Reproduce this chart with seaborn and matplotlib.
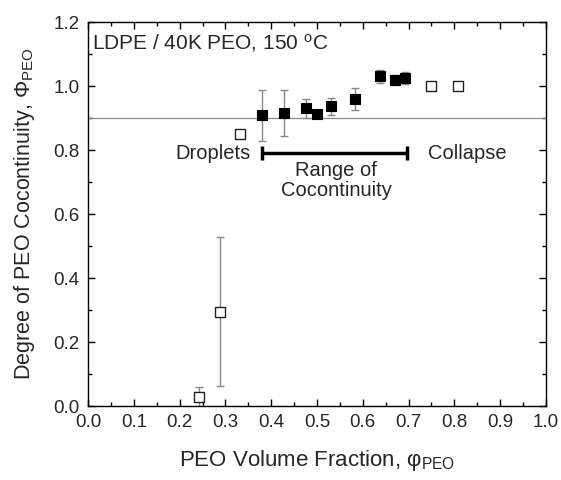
import numpy as np
import pandas as pd
import matplotlib
matplotlib.use("Agg")
import matplotlib.pyplot as plt
import seaborn as sns
from matplotlib.ticker import MultipleLocator, FormatStrFormatter

sns.set_style("ticks")
plt.rcParams['font.family'] = ['Liberation Sans', 'DejaVu Sans']
plt.rcParams['mathtext.fontset'] = 'custom'
plt.rcParams['mathtext.rm'] = 'Liberation Sans'
plt.rcParams['mathtext.it'] = 'Liberation Sans:italic'
plt.rcParams['mathtext.sf'] = 'Liberation Sans'

# Cocontinuous (filled) points
phi_filled = [0.380, 0.429, 0.477, 0.499, 0.531, 0.582, 0.637, 0.670, 0.693]
coc_filled = [0.909, 0.916, 0.930, 0.912, 0.937, 0.959, 1.030, 1.019, 1.025]
err_filled = [0.080, 0.071, 0.029, 0.010, 0.027, 0.035, 0.019, 0.015, 0.018]

# Non-cocontinuous (open) points
phi_open = [0.243, 0.288, 0.332, 0.750, 0.809]
coc_open = [0.029, 0.295, 0.849, 1.000, 1.000]
err_open = [0.030, 0.233, 0.010, 0.005, 0.003]

threshold = 0.9
range_start, range_end, range_y = 0.380, 0.696, 0.79

df_f = pd.DataFrame({"phi": phi_filled, "coc": coc_filled})
df_o = pd.DataFrame({"phi": phi_open, "coc": coc_open})

fig, ax = plt.subplots(figsize=(5.61, 4.8), dpi=100)
fig.subplots_adjust(left=0.157, right=0.973, top=0.954, bottom=0.154)

ax.axhline(threshold, color='#888888', lw=0.9, zorder=1)

ax.errorbar(phi_filled, coc_filled, yerr=err_filled, fmt='none', ecolor='#888888',
            elinewidth=1, capsize=3, capthick=1, zorder=2)
ax.errorbar(phi_open, coc_open, yerr=err_open, fmt='none', ecolor='#888888',
            elinewidth=1, capsize=3, capthick=1, zorder=2)

sns.scatterplot(data=df_f, x="phi", y="coc", ax=ax, marker='s', s=60,
                color='black', edgecolor='black', linewidth=0.8, zorder=3)
sns.scatterplot(data=df_o, x="phi", y="coc", ax=ax, marker='s', s=42,
                facecolor='white', edgecolor='#222222', linewidth=1.0, zorder=3)

# Range of cocontinuity bar
half = (range_end - range_start) / 2
ax.errorbar([(range_start + range_end) / 2], [range_y], xerr=[[half], [half]],
            fmt='none', ecolor='black', elinewidth=2.5, capsize=5, capthick=2.5, zorder=3)

ax.text(0.355, range_y, "Droplets", ha='right', va='center', fontsize=14.5)
ax.text(0.742, range_y, "Collapse", ha='left', va='center', fontsize=14.5)
ax.text(0.542, 0.705, "Range of\nCocontinuity", ha='center', va='center', fontsize=14.5,
        linespacing=1.1)
ax.text(0.008, 1.135, "LDPE / 40K PEO, 150 $^{\\rm o}$C", ha='left', va='center', fontsize=15)

ax.set_xlim(0, 1.0)
ax.set_ylim(0, 1.2)
ax.xaxis.set_major_locator(MultipleLocator(0.1))
ax.xaxis.set_minor_locator(MultipleLocator(0.05))
ax.yaxis.set_major_locator(MultipleLocator(0.2))
ax.yaxis.set_minor_locator(MultipleLocator(0.1))
ax.xaxis.set_major_formatter(FormatStrFormatter('%.1f'))
ax.yaxis.set_major_formatter(FormatStrFormatter('%.1f'))
ax.tick_params(which='both', direction='in', top=True, right=True, color='black')
ax.tick_params(which='major', length=5, width=1, labelsize=13.5, pad=6)
ax.tick_params(which='minor', length=3, width=1)
for sp in ax.spines.values():
    sp.set_color('black')
    sp.set_linewidth(1.0)

ax.set_xlabel("PEO Volume Fraction, $\\mathrm{\u03c6}_{\\rm PEO}$", fontsize=16, labelpad=12)
ax.set_ylabel("Degree of PEO Cocontinuity, $\\mathrm{\u03a6}_{\\rm PEO}$", fontsize=15.5, labelpad=12)

fig.savefig("out.png", dpi=100)
